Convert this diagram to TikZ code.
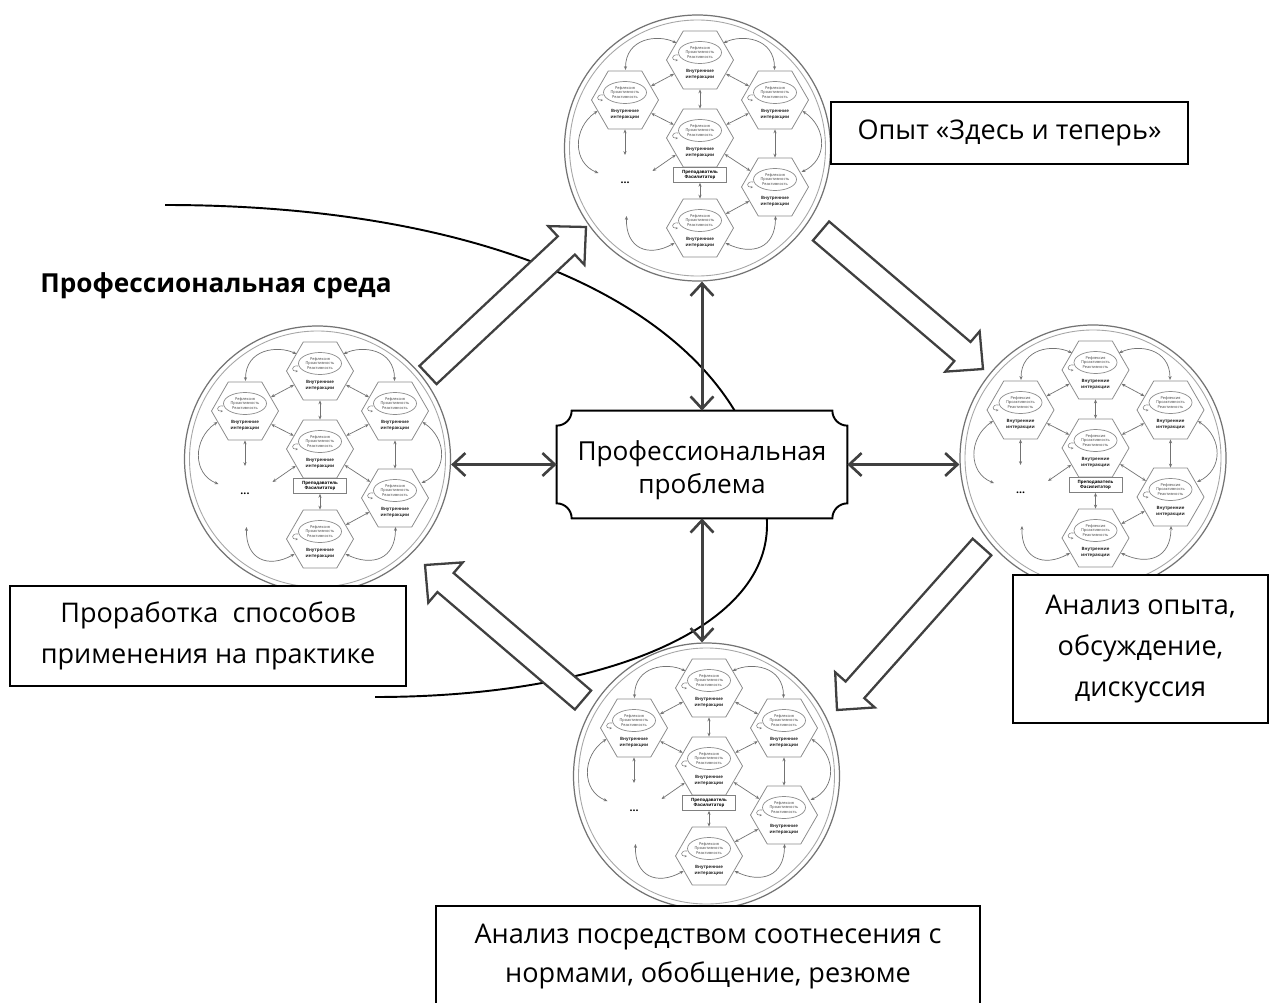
\documentclass[tikz,border=0pt]{standalone}
\usepackage{fontspec}
\setmainfont{Open Sans}
\usetikzlibrary{calc,arrows.meta,shapes.geometric}
\newlength\pxu
\setlength\pxu{0.02cm}
\tikzset{
  ring/.style={circle, draw=black!55, line width=0.7pt, fill=white, minimum size=266\pxu, inner sep=0pt},
  ringin/.style={draw=black!35, line width=0.5pt},
  hexa/.style={regular polygon, regular polygon sides=6, draw=black!45, line width=0.45pt, minimum size=67\pxu, inner sep=0pt},
  ell/.style={ellipse, draw=black!45, line width=0.4pt, minimum width=43\pxu, minimum height=22\pxu, inner sep=0pt, align=center, font=\fontsize{2.2}{2.8}\selectfont, text=black!75},
  intr/.style={align=center, font=\bfseries\fontsize{2.5}{3.1}\selectfont, inner sep=0pt, text=black!85},
  pbox/.style={draw=black!50, line width=0.4pt, minimum width=53\pxu, minimum height=15\pxu, inner sep=0pt, align=center, font=\bfseries\fontsize{2.5}{3.1}\selectfont, fill=white},
  dotsn/.style={font=\bfseries\fontsize{6}{6}\selectfont, inner sep=0pt},
  inar/.style={draw=black!55, line width=0.4pt, {Stealth[length=2.2pt,width=1.8pt]}-{Stealth[length=2.2pt,width=1.8pt]}},
  loopar/.style={draw=black!50, line width=0.3pt, -{Stealth[length=1.4pt,width=1.2pt]}},
  envarc/.style={draw=black, line width=1.1pt},
  envlabel/.style={font=\bfseries\fontsize{14.9}{18}\selectfont, inner sep=0pt},
  probtext/.style={minimum width=290\pxu, minimum height=107\pxu, inner sep=0pt},
  plaq/.style={draw=black, line width=1.1pt, fill=white},
  dblar/.style={draw=black!75, line width=1.7pt, {Straight Barb[length=7pt,width=13pt,line width=1.5pt]}-{Straight Barb[length=7pt,width=13pt,line width=1.5pt]}},
  barrow/.style={draw=black!75, line width=1.3pt, fill=white, line join=miter},
  txtbox/.style={draw=black, line width=1.1pt, fill=white, align=center, inner sep=0pt, font=\fontsize{15.4}{23.4}\selectfont},
}
\newcommand\hexunit[2]{%
  \begin{scope}[shift={(#2)}]
    \node[hexa] (#1) at (0,0) {};
    \node[ell] (#1e) at (0,-7.5) {Рефлексия\\Проактивность\\Реактивность};
    \node[intr] (#1t) at (0,14.5) {Внутренние\\интеракции};
    \draw[loopar] (-22,-5) .. controls (-29,-6) and (-29,1) .. (-22,0);
  \end{scope}}
\newcommand\netcircle[2]{%
  \begin{scope}[shift={(#2)}]
    \node[ring] (#1-c) at (0,0) {};
    \draw[ringin] (0,0) circle[radius=128];
    \hexunit{#1-a}{2.5,-88}
    \hexunit{#1-b}{-72.5,-48}
    \hexunit{#1-f}{77.5,-48}
    \hexunit{#1-m}{2.5,-10}
    \hexunit{#1-g}{77.5,39}
    \hexunit{#1-h}{2.5,80}
    \node[dotsn] (#1-d) at (-72.5,35) {...};
    \node[pbox] (#1-p) at (2.5,27) {Преподаватель\\Фасилитатор};
    \coordinate (#1-d1) at (-72.5,7);
    \coordinate (#1-d2) at (-45,23);
    \draw[inar] (#1-a) -- (#1-b);
    \draw[inar] (#1-a) -- (#1-f);
    \draw[inar] (#1-a) -- (#1-m);
    \draw[inar] (#1-b) -- (#1-m);
    \draw[inar] (#1-f) -- (#1-m);
    \draw[inar] (#1-f) -- (#1-g);
    \draw[inar] (#1-m) -- (#1-g);
    \draw[inar] (#1-g) -- (#1-h);
    \draw[inar] (#1-m) -- (#1-d2);
    \draw[inar] (#1-b) -- (#1-d1);
    \draw[inar] (#1-p) -- (#1-h);
    \draw[inar] (-21,-105) .. controls (-40,-114) and (-72,-110) .. (-72,-78);
    \draw[inar] (26,-105) .. controls (45,-114) and (77,-110) .. (77,-78);
    \draw[inar] (-100,-37) .. controls (-125,-20) and (-125,15) .. (-99,25);
    \draw[inar] (105,-37) .. controls (130,-20) and (130,12) .. (104,24);
    \draw[inar] (78,68) .. controls (78,100) and (55,108) .. (28,95);
    \draw[inar] (-23,95) .. controls (-50,110) and (-72,100) .. (-71,68);
  \end{scope}}
\newcommand\blockarrow[3]{%
  \coordinate (#1h) at ($(#3)!0.54cm!(#2)$);
  \draw[barrow] ($(#2)!0.25cm!90:(#3)$) -- ($(#1h)!0.25cm!90:(#3)$) -- ($(#1h)!0.53cm!90:(#3)$) -- (#3)
    -- ($(#1h)!0.53cm!-90:(#3)$) -- ($(#1h)!0.25cm!-90:(#3)$) -- ($(#2)!0.25cm!-90:(#3)$) -- cycle;}
\begin{document}
\begin{tikzpicture}[x=0.02cm,y=-0.02cm]
\useasboundingbox (0,0) rectangle (1270,1003);
\fill[white] (0,0) rectangle (1270,1003);
% environment boundary
\draw[envarc] (165,205) .. controls (540,205) and (767,340) .. (767,525)
  .. controls (767,630) and (600,697) .. (375,697);
\node[envlabel, anchor=west] (env) at (40,286) {Профессиональная среда};
% four cycles
\netcircle{T}{697.5,148}
\netcircle{L}{317.5,459}
\netcircle{R}{1093,458}
\netcircle{B}{706.5,776}
% central problem
\node[probtext] (prob) at (702,464.5) {};
\draw[plaq] ($(prob.north west)+(0,15)$) .. controls +(8.3,0) and +(0,8.3) .. ($(prob.north west)+(15,0)$)
  -- ($(prob.north east)+(-15,0)$) .. controls +(0,8.3) and +(-8.3,0) .. ($(prob.north east)+(0,15)$)
  -- ($(prob.south east)+(0,-15)$) .. controls +(-8.3,0) and +(0,-8.3) .. ($(prob.south east)+(-15,0)$)
  -- ($(prob.south west)+(15,0)$) .. controls +(0,-8.3) and +(8.3,0) .. ($(prob.south west)+(0,-15)$) -- cycle;
\node[font=\fontsize{14.9}{18.8}\selectfont, align=center, inner sep=0pt] (probt) at (702,470) {Профессиональная\\проблема};
% double arrows
\draw[dblar] (prob.north) -- (prob.north |- T-c.south);
\draw[dblar] (prob.south) -- (prob.south |- B-c.north);
\draw[dblar] (prob.west) -- (prob.west -| L-c.east);
\draw[dblar] (prob.east) -- (prob.east -| R-c.west);
% block arrows
\coordinate (ba1s) at (428,375); \coordinate (ba1e) at (586,227);
\coordinate (ba2s) at (821,231); \coordinate (ba2e) at (983,369);
\coordinate (ba3s) at (982,547); \coordinate (ba3e) at (837,710);
\coordinate (ba4s) at (583,700); \coordinate (ba4e) at (425,565);
\blockarrow{ba1}{ba1s}{ba1e}
\blockarrow{ba2}{ba2s}{ba2e}
\blockarrow{ba3}{ba3s}{ba3e}
\blockarrow{ba4}{ba4s}{ba4e}
% stage boxes
\node[txtbox, minimum width=357\pxu, minimum height=62\pxu] (s1) at (1009.5,133) {Опыт «Здесь и теперь»};
\node[txtbox, minimum width=255\pxu, minimum height=148\pxu] (s2) at (1140.5,649) {Анализ опыта,\\обсуждение,\\дискуссия};
\node[txtbox, minimum width=544\pxu, minimum height=110\pxu] (s3) at (708,961) {};
\node[font=\fontsize{15.4}{22.4}\selectfont, align=center, inner sep=0pt] (s3t) at (708,956.5) {Анализ посредством соотнесения с\\нормами, обобщение, резюме};
\node[txtbox, minimum width=396\pxu, minimum height=100\pxu] (s4) at (208,636) {Проработка\ \ способов\\применения на практике};
\end{tikzpicture}
\end{document}
